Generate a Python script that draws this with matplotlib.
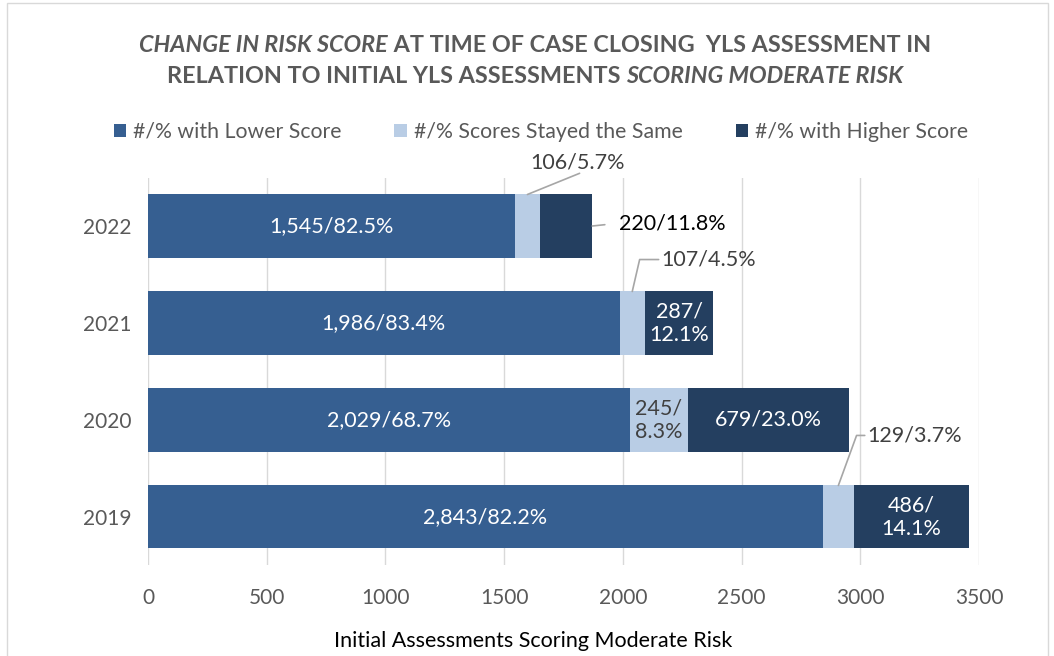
import matplotlib.pyplot as plt
from matplotlib.patches import Rectangle

years = ['2019', '2020', '2021', '2022']
lower = [2843, 2029, 1986, 1545]
same = [129, 245, 107, 106]
higher = [486, 679, 287, 220]
lower_lbl = ['2,843/82.2%', '2,029/68.7%', '1,986/83.4%', '1,545/82.5%']
same_lbl = ['129/3.7%', '245/\n8.3%', '107/4.5%', '106/5.7%']
higher_lbl = ['486/\n14.1%', '679/23.0%', '287/\n12.1%', '220/11.8%']
xticks = [0, 500, 1000, 1500, 2000, 2500, 3000, 3500]

c_low = '#365F91'
c_same = '#B9CDE5'
c_high = '#243F60'
grey = '#595959'

plt.rcParams['font.family'] = ['Lato', 'DejaVu Sans']

fig = plt.figure(figsize=(10.54, 6.56), dpi=100)
ax = fig.add_axes([0.1404, 0.138, 0.7885, 0.5914])

y = list(range(len(years)))
left2 = lower
left3 = [a + b for a, b in zip(lower, same)]
ax.barh(y, lower, height=0.65, color=c_low, label='#/% with Lower Score', zorder=3)
ax.barh(y, same, left=left2, height=0.65, color=c_same, label='#/% Scores Stayed the Same', zorder=3)
ax.barh(y, higher, left=left3, height=0.65, color=c_high, label='#/% with Higher Score', zorder=3)

ax.set_xlim(0, 3500)
ax.set_ylim(-0.5, 3.5)
ax.set_xticks(xticks)
ax.set_yticks(y)
ax.set_yticklabels(years)
ax.tick_params(axis='both', length=0, labelsize=15, colors=grey)
ax.tick_params(axis='x', pad=16)
ax.tick_params(axis='y', pad=12)
ax.grid(axis='x', color='#D9D9D9', lw=1, zorder=0)
for s in ax.spines.values():
    s.set_visible(False)

fs = 15.5
# labels inside the bars
for i in range(4):
    ax.text(lower[i] / 2, i, lower_lbl[i], ha='center', va='center', color='white', fontsize=fs, zorder=4)
ax.text(left2[1] + same[1] / 2, 1, same_lbl[1], ha='center', va='center', color='#404040', fontsize=fs,
        linespacing=1.2, zorder=4)
for i in [0, 1, 2]:
    ax.text(left3[i] + higher[i] / 2, i, higher_lbl[i], ha='center', va='center', color='white', fontsize=fs,
            linespacing=1.2, zorder=4)

line = dict(arrowstyle='-', color='#A6A6A6', lw=1.2, shrinkA=2, shrinkB=0, patchA=None)

# callouts outside the bars
ax.annotate(same_lbl[0], xy=(left2[0] + same[0] / 2, 0.325), xytext=(21, 36), textcoords='offset points',
            ha='left', va='center', fontsize=fs, color='#404040',
            arrowprops=dict(line, relpos=(0, 0.5), connectionstyle='angle,angleA=0,angleB=70'), zorder=5)
ax.annotate(same_lbl[2], xy=(left2[2] + same[2] / 2, 2.325), xytext=(21, 23), textcoords='offset points',
            ha='left', va='center', fontsize=fs, color='#404040',
            arrowprops=dict(line, relpos=(0, 0.5), connectionstyle='angle,angleA=0,angleB=77'), zorder=5)
ax.annotate(same_lbl[3], xy=(left2[3] + same[3] / 2, 3.325), xytext=(36, 16), textcoords='offset points',
            ha='center', va='bottom', fontsize=fs, color='#404040',
            arrowprops=dict(line, relpos=(0.55, 0)), zorder=5)
ax.annotate(higher_lbl[3], xy=(left3[3] + higher[3], 3), xytext=(19, 2), textcoords='offset points',
            ha='left', va='center', fontsize=fs, color='black',
            arrowprops=dict(line, relpos=(0, 0.5), shrinkA=10), zorder=5)

# title with mixed italic parts
def rich_line(ypos, parts):
    texts = []
    for s, style in parts:
        texts.append(fig.text(0, ypos, s, fontstyle=style, fontweight='bold', fontsize=16.8,
                              color=grey, va='center', ha='left'))
    fig.canvas.draw()
    r = fig.canvas.get_renderer()
    widths = [t.get_window_extent(r).width for t in texts]
    W = fig.get_figwidth() * fig.dpi
    x = 535 - sum(widths) / 2
    for t, w in zip(texts, widths):
        t.set_x(x / W)
        x += w

rich_line(0.931, [('CHANGE IN RISK SCORE', 'italic'), (' AT TIME OF CASE CLOSING  YLS ASSESSMENT IN', 'normal')])
rich_line(0.883, [('RELATION TO INITIAL YLS ASSESSMENTS ', 'normal'), ('SCORING MODERATE RISK', 'italic')])

fig.legend(loc='center', bbox_to_anchor=(0.513, 0.799), ncol=3, frameon=False, fontsize=15.3,
           handlelength=0.6, handleheight=0.6, handletextpad=0.3, columnspacing=2.5, labelcolor=grey)

fig.text(0.5057, 0.023, 'Initial Assessments Scoring Moderate Risk', ha='center', va='center', fontsize=15.5)

fig.patches.append(Rectangle((7 / 1054, -0.01), 1041 / 1054, 1.01 - 3 / 656, transform=fig.transFigure,
                             fill=False, edgecolor='#D9D9D9', lw=1))

fig.savefig('out.png', dpi=100)
